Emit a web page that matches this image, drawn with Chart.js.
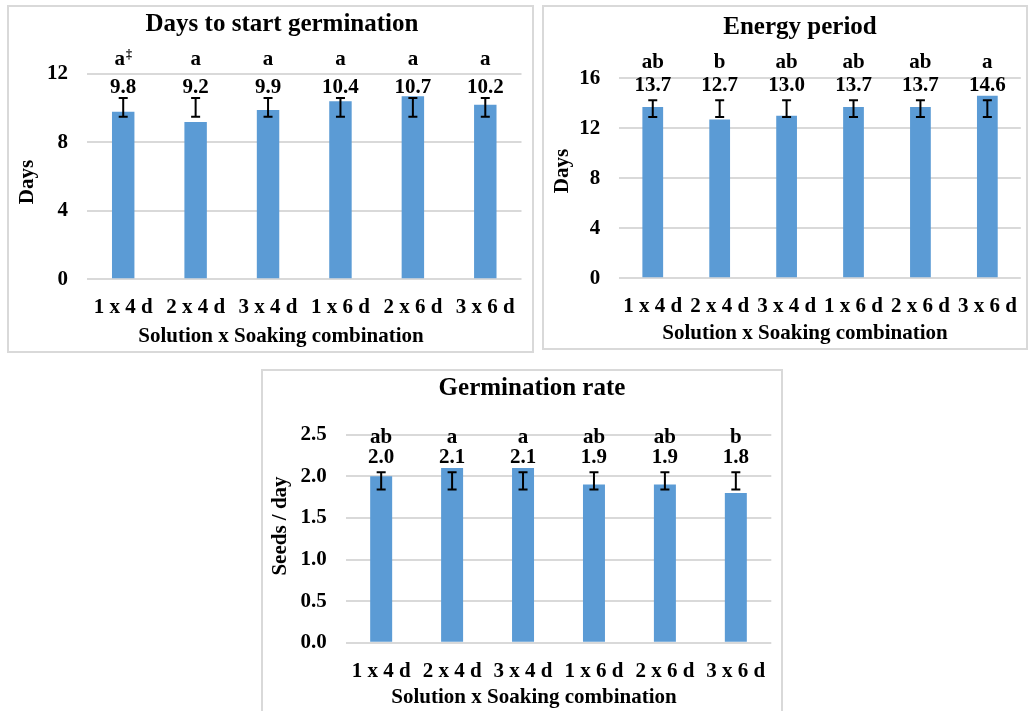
<!DOCTYPE html>
<html>
<head>
<meta charset="utf-8">
<title>Germination charts</title>
<script src="https://cdn.jsdelivr.net/npm/chart.js@4.4.1/dist/chart.umd.min.js"></script>
<style>
  html, body { margin: 0; padding: 0; background: #ffffff; }
  body { position: relative; width: 1029px; height: 711px; overflow: hidden; }
  .panel { position: absolute; box-sizing: border-box; border: 2px solid #d9d9d9; pointer-events: none; z-index: 2; }
  canvas { position: absolute; z-index: 1; }
</style>
</head>
<body>
<canvas id="c1"></canvas>
<canvas id="c2"></canvas>
<canvas id="c3"></canvas>
<div class="panel" id="p1"></div>
<div class="panel" id="p2"></div>
<div class="panel" id="p3"></div>
<script>
// Treatment combinations (solution x soaking days)
const categories = ['1 x 4 d', '2 x 4 d', '3 x 4 d', '1 x 6 d', '2 x 6 d', '3 x 6 d'];

// Days to start germination
const startDays = [9.8, 9.2, 9.9, 10.4, 10.7, 10.2];
const startLetters = ['a‡', 'a', 'a', 'a', 'a', 'a'];
const startErrLow = [9.5, 9.5, 9.5, 9.5, 9.5, 9.5];
const startErrHigh = [10.6, 10.6, 10.6, 10.6, 10.6, 10.6];
const startTicks = [0, 4, 8, 12];

// Energy period
const energyDays = [13.7, 12.7, 13.0, 13.7, 13.7, 14.6];
const energyLetters = ['ab', 'b', 'ab', 'ab', 'ab', 'a'];
const energyErrLow = [12.9, 12.9, 12.9, 12.9, 12.9, 12.9];
const energyErrHigh = [14.25, 14.25, 14.25, 14.25, 14.25, 14.25];
const energyTicks = [0, 4, 8, 12, 16];

// Germination rate (seeds per day)
const rateValues = [2.0, 2.1, 2.1, 1.9, 1.9, 1.8];
const rateLetters = ['ab', 'a', 'a', 'ab', 'ab', 'b'];
const rateErrLow = [1.84, 1.84, 1.84, 1.84, 1.84, 1.84];
const rateErrHigh = [2.05, 2.05, 2.05, 2.05, 2.05, 2.05];
const rateTicks = [0, 0.5, 1.0, 1.5, 2.0, 2.5];

const FONT = '"Liberation Serif", "Times New Roman", serif';
const BAR_COLOR = '#5b9bd5';
const GRID_COLOR = '#d9d9d9';

// Error bars, significance letters and value labels above each bar
const annotatePlugin = {
  id: 'annotate',
  afterDatasetsDraw(chart) {
    const o = chart.options.plugins.annotate;
    const ctx = chart.ctx;
    const y = chart.scales.y;
    const meta = chart.getDatasetMeta(0);
    ctx.save();
    meta.data.forEach((bar, i) => {
      const x = bar.x;
      const yHi = y.getPixelForValue(o.errHigh[i]);
      const yLo = y.getPixelForValue(o.errLow[i]);
      ctx.strokeStyle = '#000';
      ctx.lineWidth = 2;
      ctx.beginPath();
      ctx.moveTo(x, yHi); ctx.lineTo(x, yLo);
      ctx.moveTo(x - 4.5, yHi); ctx.lineTo(x + 4.5, yHi);
      ctx.moveTo(x - 4.5, yLo); ctx.lineTo(x + 4.5, yLo);
      ctx.stroke();

      ctx.fillStyle = '#000';
      ctx.textBaseline = 'alphabetic';
      ctx.font = 'bold 21px ' + FONT;
      ctx.textAlign = 'center';
      const valY = yHi - o.valueGap;
      ctx.fillText(o.values[i].toFixed(1), x, valY);

      // letter group, with a trailing footnote mark set as superscript
      const raw = o.letters[i];
      const sup = raw.endsWith('‡') ? '‡' : '';
      const main = sup ? raw.slice(0, -1) : raw;
      const letY = valY - o.letterGap;
      ctx.font = 'bold 21px ' + FONT;
      const wMain = ctx.measureText(main).width;
      ctx.font = 'bold 12px ' + FONT;
      const wSup = sup ? ctx.measureText(sup).width + 1 : 0;
      const x0 = x - (wMain + wSup) / 2;
      ctx.textAlign = 'left';
      ctx.font = 'bold 21px ' + FONT;
      ctx.fillText(main, x0, letY);
      if (sup) {
        ctx.font = 'bold 12px ' + FONT;
        ctx.fillText(sup, x0 + wMain + 1, letY - 7);
      }
    });
    ctx.restore();
  }
};

// Chart title and axis titles
const titlesPlugin = {
  id: 'titles',
  afterDraw(chart) {
    const t = chart.options.plugins.titles;
    const ctx = chart.ctx;
    ctx.save();
    ctx.fillStyle = '#000';
    ctx.textAlign = 'center';
    ctx.textBaseline = 'middle';
    ctx.font = 'bold 25px ' + FONT;
    ctx.fillText(t.title, t.titlePos[0], t.titlePos[1]);
    ctx.font = 'bold 21px ' + FONT;
    ctx.fillText(t.xTitle, t.xTitlePos[0], t.xTitlePos[1]);
    ctx.translate(t.yTitlePos[0], t.yTitlePos[1]);
    ctx.rotate(-Math.PI / 2);
    ctx.fillText(t.yTitle, 0, 0);
    ctx.restore();
  }
};

function makeChart(spec) {
  const el = document.getElementById(spec.id);
  const box = document.getElementById(spec.panel);
  const [bx, by, bw, bh] = spec.box;
  Object.assign(box.style, { left: bx + 'px', top: by + 'px', width: bw + 'px', height: bh + 'px' });
  el.width = bw; el.height = bh;
  Object.assign(el.style, { left: bx + 'px', top: by + 'px', width: bw + 'px', height: bh + 'px' });

  return new Chart(el, {
    type: 'bar',
    data: {
      labels: categories,
      datasets: [{
        data: spec.values,
        backgroundColor: BAR_COLOR,
        borderWidth: 0,
        categoryPercentage: 1.0,
        barPercentage: 0.31
      }]
    },
    options: {
      responsive: false,
      animation: false,
      devicePixelRatio: 1,
      layout: { padding: { top: spec.plot.top, right: spec.plot.right, left: 0, bottom: 0 } },
      plugins: {
        legend: { display: false },
        tooltip: { enabled: false },
        annotate: {
          values: spec.values, letters: spec.letters,
          errLow: spec.errLow, errHigh: spec.errHigh,
          valueGap: spec.valueGap, letterGap: spec.letterGap
        },
        titles: spec.titles
      },
      scales: {
        x: {
          grid: { display: false },
          border: { display: false },
          ticks: {
            color: '#000', padding: 8, maxRotation: 0, autoSkip: false,
            font: { family: FONT, size: 21, weight: 'bold' }
          },
          afterFit(s) { s.height = spec.plot.bottom; }
        },
        y: {
          min: spec.ticks[0],
          max: spec.ticks[spec.ticks.length - 1],
          afterBuildTicks(s) { s.ticks = spec.ticks.map(v => ({ value: v })); },
          grid: { color: GRID_COLOR, lineWidth: 2, drawTicks: false },
          border: { display: false },
          ticks: {
            color: '#000', padding: 19,
            font: { family: FONT, size: 21, weight: 'bold' },
            callback: spec.tickFormat
          },
          afterFit(s) { s.width = spec.plot.left; }
        }
      }
    },
    plugins: [annotatePlugin, titlesPlugin]
  });
}

makeChart({
  id: 'c1', panel: 'p1', box: [7, 5, 527, 348],
  plot: { left: 80, right: 12.5, top: 69, bottom: 73.7 },
  values: startDays, letters: startLetters, errLow: startErrLow, errHigh: startErrHigh,
  ticks: startTicks, tickFormat: v => String(v),
  valueGap: 5, letterGap: 28,
  titles: {
    title: 'Days to start germination', titlePos: [275, 20],
    xTitle: 'Solution x Soaking combination', xTitlePos: [274, 332],
    yTitle: 'Days', yTitlePos: [21, 177]
  }
});

makeChart({
  id: 'c2', panel: 'p2', box: [542, 5, 486, 345],
  plot: { left: 77.3, right: 7.2, top: 73.3, bottom: 71.7 },
  values: energyDays, letters: energyLetters, errLow: energyErrLow, errHigh: energyErrHigh,
  ticks: energyTicks, tickFormat: v => String(v),
  valueGap: 9.5, letterGap: 23,
  titles: {
    title: 'Energy period', titlePos: [258, 23],
    xTitle: 'Solution x Soaking combination', xTitlePos: [263, 329],
    yTitle: 'Days', yTitlePos: [21, 166]
  }
});

makeChart({
  id: 'c3', panel: 'p3', box: [261, 369, 522, 346],
  plot: { left: 84.7, right: 11.7, top: 65.7, bottom: 72.3 },
  values: rateValues, letters: rateLetters, errLow: rateErrLow, errHigh: rateErrHigh,
  ticks: rateTicks, tickFormat: v => Number(v).toFixed(1),
  valueGap: 9, letterGap: 20,
  titles: {
    title: 'Germination rate', titlePos: [271, 20],
    xTitle: 'Solution x Soaking combination', xTitlePos: [273, 329],
    yTitle: 'Seeds / day', yTitlePos: [20, 157]
  }
});
</script>
</body>
</html>
